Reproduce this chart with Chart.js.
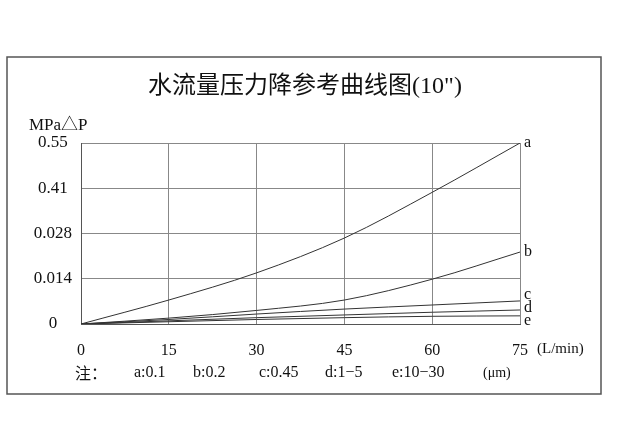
<!DOCTYPE html>
<html><head><meta charset="utf-8">
<script src="https://cdn.jsdelivr.net/npm/chart.js@4.4.1/dist/chart.umd.min.js"></script>
<style>html,body{margin:0;padding:0;background:#fff;}#wrap{width:617px;height:430px;position:relative;}</style>
</head><body><div id="wrap"><canvas id="c" width="617" height="430"></canvas></div>
<script>
const titleText = '水流量压力降参考曲线图(10")';
const yAxisTitle = 'MPa△P';
const xUnit = '(L/min)';
const flowRates = [0, 15, 30, 45, 60, 75];
const yTickLabels = ['0', '0.014', '0.028', '0.41', '0.55'];
// values expressed in y-grid positions (0..4 = tick labels above)
const seriesA = [0, 0.53, 1.13, 1.90, 2.91, 4.00];
const seriesB = [0, 0.13, 0.30, 0.53, 0.99, 1.59];
const seriesC = [0, 0.10, 0.22, 0.33, 0.42, 0.51];
const seriesD = [0, 0.07, 0.14, 0.20, 0.26, 0.31];
const seriesE = [0, 0.05, 0.10, 0.14, 0.17, 0.18];
const seriesNames = ['a', 'b', 'c', 'd', 'e'];
const noteLabel = '注：';
const noteItems = ['a:0.1', 'b:0.2', 'c:0.45', 'd:1−5', 'e:10−30'];
const noteUnit = '(μm)';

const SERIF = '"Liberation Serif", "Noto Sans CJK SC", serif';
const allSeries = [seriesA, seriesB, seriesC, seriesD, seriesE];

const decor = {
  id: 'decor',
  afterDraw(chart) {
    const ctx = chart.ctx;
    const xs = chart.scales.x, ys = chart.scales.y;
    ctx.save();
    ctx.strokeStyle = '#555';
    ctx.lineWidth = 1.5;
    ctx.strokeRect(7, 57, 594, 337);
    ctx.fillStyle = '#111';
    ctx.font = '24px ' + SERIF;
    ctx.textAlign = 'center';
    ctx.textBaseline = 'middle';
    ctx.fillText(titleText, 305, 87);
    ctx.font = '17px ' + SERIF;
    ctx.textAlign = 'left';
    ctx.fillText(yAxisTitle, 29, 126);
    ctx.font = '15px ' + SERIF;
    ctx.fillText(xUnit, 537, 349);
    ctx.font = '16px ' + SERIF;
    const pos = allSeries.map(s => ys.getPixelForValue(s[s.length - 1]));
    for (let i = 1; i < pos.length; i++) if (pos[i] - pos[i - 1] < 13) pos[i] = pos[i - 1] + 13;
    for (let i = pos.length - 1; i >= 0; i--) {
      const lim = i === pos.length - 1 ? ys.bottom - 3 : pos[i + 1] - 13;
      if (pos[i] > lim) pos[i] = lim;
    }
    const xr = xs.getPixelForValue(flowRates[flowRates.length - 1]) + 4;
    seriesNames.forEach((n, i) => ctx.fillText(n, xr, pos[i]));
    const ny = 373;
    ctx.font = '16px "Noto Sans CJK SC", sans-serif';
    ctx.fillText(noteLabel, 75, ny);
    ctx.font = '16px ' + SERIF;
    const noteX = [134, 193, 259, 325, 392];
    noteItems.forEach((t, i) => ctx.fillText(t, noteX[i], ny));
    ctx.font = '14px ' + SERIF;
    ctx.fillText(noteUnit, 483, ny);
    ctx.restore();
  }
};

const lineStyle = { borderColor: '#333', borderWidth: 1, pointRadius: 0, cubicInterpolationMode: 'monotone', fill: false };

new Chart(document.getElementById('c'), {
  type: 'line',
  data: {
    labels: flowRates,
    datasets: allSeries.map((s, i) => Object.assign({ label: seriesNames[i], data: s.map((v, j) => ({ x: flowRates[j], y: v })) }, lineStyle))
  },
  options: {
    responsive: false,
    animation: false,
    layout: { padding: { top: 143, right: 97, bottom: 0, left: 0 } },
    plugins: { legend: { display: false }, tooltip: { enabled: false }, title: { display: false } },
    scales: {
      x: {
        type: 'linear', min: 0, max: 75,
        afterFit(s) { s.height = 106; },
        afterBuildTicks(s) { s.ticks = flowRates.map(v => ({ value: v })); },
        grid: { color: '#888', lineWidth: 1, drawTicks: false },
        border: { color: '#555', width: 1 },
        ticks: { color: '#111', padding: 17, font: { family: SERIF, size: 16 }, maxRotation: 0, autoSkip: false }
      },
      y: {
        type: 'linear', min: 0, max: 4,
        afterFit(s) { s.width = 81; },
        afterBuildTicks(s) { s.ticks = yTickLabels.map((_, i) => ({ value: i })); },
        grid: { color: '#888', lineWidth: 1, drawTicks: false },
        border: { color: '#555', width: 1 },
        ticks: { color: '#111', padding: 9, crossAlign: 'center', font: { family: SERIF, size: 17 },
          callback: (v) => yTickLabels[v] }
      }
    }
  },
  plugins: [decor]
});
</script></body></html>
